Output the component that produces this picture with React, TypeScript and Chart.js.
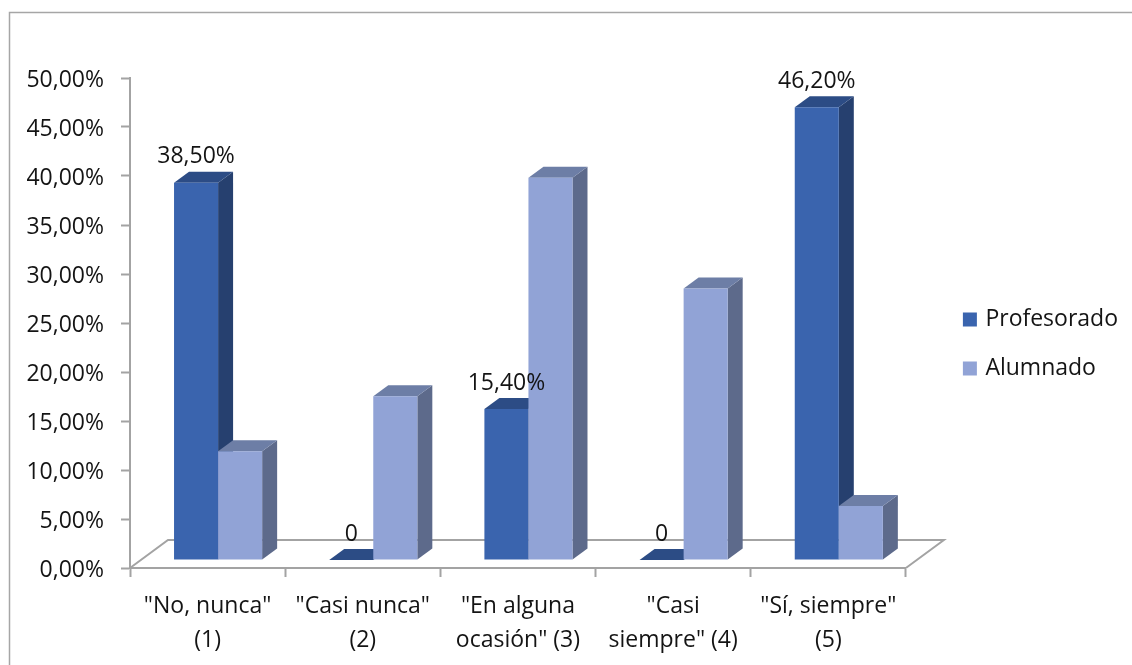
import React, { useEffect, useRef } from "react";
import { Chart, registerables } from "chart.js";

Chart.register(...registerables);

const categories: string[][] = [
  ['"No, nunca"', "(1)"],
  ['"Casi nunca"', "(2)"],
  ['"En alguna', 'ocasión" (3)'],
  ['"Casi', 'siempre" (4)'],
  ['"Sí, siempre"', "(5)"],
];
const profesorado = [38.5, 0, 15.4, 0, 46.2];
const alumnado = [11.1, 16.7, 39.0, 27.7, 5.5];
const profLabels = ["38,50%", "0", "15,40%", "0", "46,20%"];

const FONT = "'Open Sans'";
const TEXT = "#141414";
const GREY = "#a3a3a3";
const faces = [
  { side: "#26406f", top: "#2c4c85" },
  { side: "#5d6a8b", top: "#6d7ea6" },
];
const BAR_DX = 15;
const BAR_DY = 11;
const FLOOR_DX = 38;
const FLOOR_DY = 28;
const SHIFT_X = 10.5;
const SHIFT_Y = -8;
const LEGEND_SHIFT_X = 34;
const LEGEND_SHIFT_Y = -27.5;

const bars3d = {
  id: "bars3d",
  afterLayout(chart: any) {
    const l = chart.legend;
    l.left += LEGEND_SHIFT_X;
    l.right += LEGEND_SHIFT_X;
    l.top += LEGEND_SHIFT_Y;
    l.bottom += LEGEND_SHIFT_Y;
    chart.scales.y.getLabelItems(chart.chartArea).forEach((item: any) => {
      item.options.translation[1] += 2;
    });
  },
  beforeDatasetsDraw(chart: any) {
    const { ctx, chartArea: a } = chart;
    ctx.save();
    ctx.strokeStyle = GREY;
    ctx.lineWidth = 2;
    ctx.beginPath();
    ctx.moveTo(a.left, a.bottom);
    ctx.lineTo(a.left + FLOOR_DX, a.bottom - FLOOR_DY);
    ctx.lineTo(a.right + FLOOR_DX, a.bottom - FLOOR_DY);
    ctx.lineTo(a.right, a.bottom);
    ctx.stroke();
    ctx.strokeStyle = "#a6a6a6";
    ctx.lineWidth = 1.5;
    ctx.beginPath();
    ctx.moveTo(9.5, 665);
    ctx.lineTo(9.5, 12.5);
    ctx.lineTo(1132, 12.5);
    ctx.stroke();
    ctx.restore();

    ctx.save();
    ctx.translate(SHIFT_X, SHIFT_Y);
    chart.data.datasets.forEach((_: any, di: number) => {
      chart.getDatasetMeta(di).data.forEach((el: any) => {
        const x0 = el.x - el.width / 2;
        const x1 = el.x + el.width / 2;
        ctx.fillStyle = faces[di].side;
        ctx.beginPath();
        ctx.moveTo(x1, el.y);
        ctx.lineTo(x1 + BAR_DX, el.y - BAR_DY);
        ctx.lineTo(x1 + BAR_DX, el.base - BAR_DY);
        ctx.lineTo(x1, el.base);
        ctx.closePath();
        ctx.fill();
        ctx.fillStyle = faces[di].top;
        ctx.beginPath();
        ctx.moveTo(x0, el.y);
        ctx.lineTo(x1, el.y);
        ctx.lineTo(x1 + BAR_DX, el.y - BAR_DY);
        ctx.lineTo(x0 + BAR_DX, el.y - BAR_DY);
        ctx.closePath();
        ctx.fill();
        el.draw(ctx);
      });
    });
    ctx.restore();
  },
  beforeDatasetDraw() {
    return false;
  },
  afterDatasetsDraw(chart: any) {
    const { ctx } = chart;
    ctx.save();
    ctx.translate(SHIFT_X, SHIFT_Y);
    ctx.font = `23px ${FONT}`;
    ctx.fillStyle = TEXT;
    ctx.textAlign = "center";
    ctx.textBaseline = "middle";
    chart.getDatasetMeta(0).data.forEach((el: any, i: number) => {
      ctx.fillText(profLabels[i], el.x, el.y - BAR_DY - 15);
    });
    ctx.restore();
  },
};

export default function App() {
  const ref = useRef<HTMLCanvasElement>(null);
  useEffect(() => {
    const chart = new Chart(ref.current!, {
      type: "bar",
      data: {
        labels: categories,
        datasets: [
          { label: "Profesorado", data: profesorado, backgroundColor: "#3a64ae", borderWidth: 0 },
          { label: "Alumnado", data: alumnado, backgroundColor: "#91a3d6", borderWidth: 0 },
        ],
      },
      options: {
        responsive: false,
        animation: false,
        devicePixelRatio: 1,
        layout: { padding: { top: 78, left: 0, right: 38, bottom: 0 } },
        datasets: { bar: { barPercentage: 1, categoryPercentage: 88 / 155 } },
        plugins: {
          tooltip: { enabled: false },
          legend: {
            position: "right",
            labels: {
              boxWidth: 8,
              boxHeight: 8,
              padding: 26,
              color: TEXT,
              font: { family: FONT, size: 23 },
              generateLabels(chart: any) {
                return chart.data.datasets.map((d: any, i: number) => ({
                  text: d.label,
                  fillStyle: d.backgroundColor,
                  strokeStyle: d.backgroundColor,
                  lineWidth: 6,
                  datasetIndex: i,
                  fontColor: TEXT,
                }));
              },
            },
          },
        },
        scales: {
          x: {
            afterFit(s: any) {
              s.height = 97;
            },
            grid: { drawOnChartArea: false, tickLength: 9, tickColor: GREY, tickWidth: 2 },
            border: { color: GREY, width: 2 },
            ticks: {
              color: TEXT,
              padding: 13,
              autoSkip: false,
              maxRotation: 0,
              minRotation: 0,
              font: { family: FONT, size: 23, lineHeight: 1.47 },
            },
          },
          y: {
            min: 0,
            max: 50,
            afterFit(s: any) {
              s.width = 130;
            },
            grid: { drawOnChartArea: false, tickLength: 9, tickColor: GREY, tickWidth: 2 },
            border: { color: GREY, width: 2 },
            ticks: {
              stepSize: 5,
              color: TEXT,
              padding: 17,
              font: { family: FONT, size: 23 },
              callback: (v: any) => Number(v).toFixed(2).replace(".", ",") + "%",
            },
          },
        },
      },
      plugins: [bars3d],
    } as any);
    return () => chart.destroy();
  }, []);
  return (
    <div style={{ position: "fixed", left: 0, top: 0, width: 1132, height: 665, background: "#fff" }}>
      <canvas ref={ref} width={1132} height={665} style={{ display: "block" }} />
    </div>
  );
}
